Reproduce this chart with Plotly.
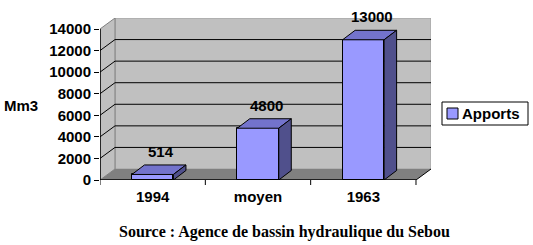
import plotly.graph_objects as go

categories = ["1994", "moyen", "1963"]
values = [514, 4800, 13000]
y_ticks = [0, 2000, 4000, 6000, 8000, 10000, 12000, 14000]
y_tick_text = ["0", "2000", "4000", "6000", "8000", "10000", "12000", "14000"]
series_name = "Apports"
y_title = "Mm3"
source = "Source : Agence de bassin hydraulique du Sebou"

# geometry (axis units)
ymax = 14000
dxw, dyw = 0.1425, 1020      # wall depth offset
dxb, dyb = 0.119, 880        # bar depth offset
bw = 0.394                   # bar width
front = "#9999FF"
top_c = "#7373CC"
side_c = "#50508C"

# plot area in pixels (for paper-coordinate conversions)
PL, PT, PW, PH = 100, 18, 331, 162
def px(xp):
    return (xp - PL) / PW
def py(yp):
    return 1 - (yp - PT) / PH

xs = list(range(len(categories)))
x0, x1 = -0.5, len(categories) - 0.5

fig = go.Figure()

fig.add_trace(go.Bar(x=xs, y=values, width=bw, name=series_name,
                     marker=dict(color=front, line=dict(color="black", width=1)),
                     showlegend=False))

for i, v in zip(xs, values):
    l, r = i - bw / 2, i + bw / 2
    fig.add_trace(go.Scatter(x=[l, l + dxb, r + dxb, r, l], y=[v, v + dyb, v + dyb, v, v],
                             fill="toself", fillcolor=top_c, mode="lines",
                             line=dict(color="black", width=1), showlegend=False, hoverinfo="skip"))
    fig.add_trace(go.Scatter(x=[r, r, r + dxb, r + dxb, r], y=[0, v, v + dyb, dyb, 0],
                             fill="toself", fillcolor=side_c, mode="lines",
                             line=dict(color="black", width=1), showlegend=False, hoverinfo="skip"))

shapes = []
# back wall
shapes.append(dict(type="rect", xref="x", yref="y", x0=x0 + dxw, x1=x1 + dxw, y0=dyw, y1=ymax + dyw,
                   fillcolor="#C0C0C0", line=dict(color="#A0A0A0", width=1), layer="below"))
# left wall
shapes.append(dict(type="path", xref="x", yref="y",
                   path=f"M{x0},0 L{x0},{ymax} L{x0+dxw},{ymax+dyw} L{x0+dxw},{dyw} Z",
                   fillcolor="#C0C0C0", line=dict(color="#808080", width=1), layer="below"))
# floor
shapes.append(dict(type="path", xref="x", yref="y",
                   path=f"M{x0},0 L{x1},0 L{x1+dxw},{dyw} L{x0+dxw},{dyw} Z",
                   fillcolor="#808080", line=dict(width=0), layer="below"))
# gridlines
for t in y_ticks[1:-1]:
    shapes.append(dict(type="path", xref="x", yref="y",
                       path=f"M{x0},{t} L{x0+dxw},{t+dyw} L{x1+dxw},{t+dyw}",
                       line=dict(color="black", width=1), layer="below"))
# floor right edge
shapes.append(dict(type="line", xref="x", yref="y", x0=x1, y0=0, x1=x1 + dxw, y1=dyw,
                   line=dict(color="black", width=1), layer="below"))
# axis lines
shapes.append(dict(type="line", xref="x", yref="y", x0=x0, y0=0, x1=x1, y1=0,
                   line=dict(color="black", width=1.5)))
shapes.append(dict(type="line", xref="x", yref="y", x0=x0, y0=0, x1=x0, y1=ymax,
                   line=dict(color="black", width=1.5)))
# category tick marks
for k in range(len(categories) + 1):
    shapes.append(dict(type="line", xref="x", yref="paper", x0=x0 + k, x1=x0 + k,
                       y0=0, y1=-5 / PH, line=dict(color="black", width=1)))

# legend box and swatch
shapes.append(dict(type="rect", xref="paper", yref="paper", x0=px(442), x1=px(528), y0=py(125), y1=py(102),
                   fillcolor="white", line=dict(color="black", width=1)))
shapes.append(dict(type="rect", xref="paper", yref="paper", x0=px(447), x1=px(458), y0=py(119), y1=py(108),
                   fillcolor=front, line=dict(color="black", width=1)))

bold = dict(family="Liberation Sans", size=15, color="black", weight="bold")

annotations = []
for i, v in zip(xs, values):
    annotations.append(dict(x=i + dxb / 2 + 0.02, y=v + dyb, xref="x", yref="y", text=f"{v}",
                            showarrow=False, yanchor="bottom", yshift=3, font=bold))
annotations.append(dict(x=px(21), y=py(105), xref="paper", yref="paper", text=y_title,
                        showarrow=False, xanchor="center", yanchor="middle", font=bold))
annotations.append(dict(x=px(460), y=py(113.5), xref="paper", yref="paper", text=series_name,
                        showarrow=False, xanchor="left", yanchor="middle", font=bold))
annotations.append(dict(x=px(284), y=py(232), xref="paper", yref="paper", text=source,
                        showarrow=False, xanchor="center", yanchor="middle",
                        font=dict(family="Liberation Serif", size=16, color="black", weight="bold")))

fig.update_layout(
    width=533, height=245,
    margin=dict(l=100, r=102, t=18, b=65, autoexpand=False),
    paper_bgcolor="white", plot_bgcolor="white",
    shapes=shapes, annotations=annotations,
    xaxis=dict(range=[x0, x1 + dxw], tickvals=xs, ticktext=categories, ticks="",
               showgrid=False, zeroline=False, showline=False, ticklabelstandoff=6,
               tickfont=bold, automargin=False),
    yaxis=dict(range=[0, ymax + dyw], tickvals=y_ticks, ticktext=y_tick_text, ticks="outside",
               ticklen=5, tickcolor="black", showgrid=False, zeroline=False, showline=False,
               tickfont=bold, automargin=False),
    bargap=0,
    showlegend=False,
)

fig.write_html("out.html")
